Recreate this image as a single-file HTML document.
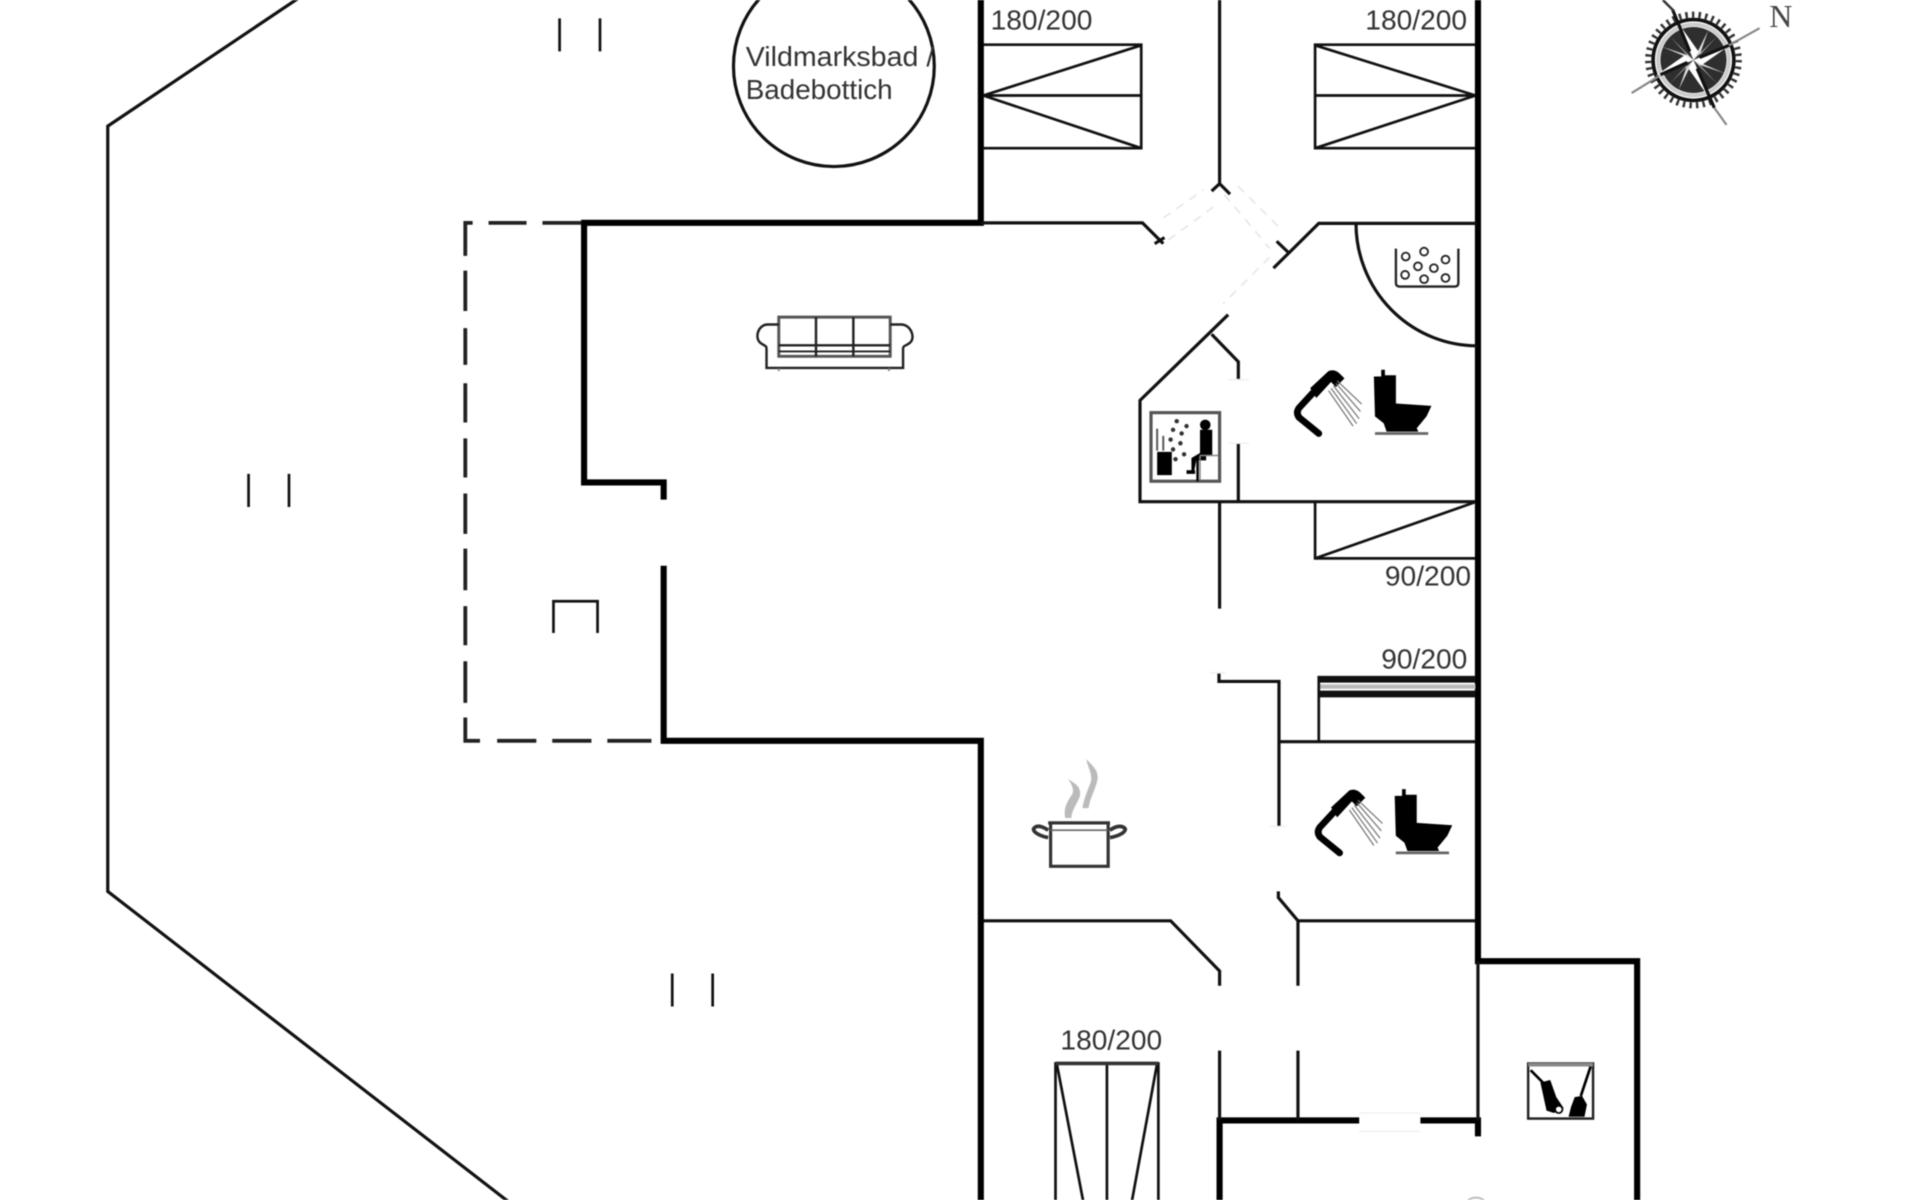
<!DOCTYPE html>
<html><head><meta charset="utf-8"><style>
html,body{margin:0;padding:0;background:#fff;width:1920px;height:1200px;overflow:hidden}
svg{display:block;filter:blur(.55px)}
text{font-family:"Liberation Sans",sans-serif;font-size:23px;fill:#333}
.w{fill:none;stroke:#000;stroke-width:5;stroke-linejoin:miter}
.t{fill:none;stroke:#111;stroke-width:2.6}
.b{fill:none;stroke:#111;stroke-width:2.2}
.d{fill:none;stroke:#222;stroke-width:3.1}
.p{fill:none;stroke:#e4e4e4;stroke-width:1.2;stroke-dasharray:7 6}
.k{fill:none;stroke:#ccc;stroke-width:1.2}
.q{fill:none;stroke:#f0f0f0;stroke-width:1.2}
</style></head><body>
<svg width="1920" height="1200" viewBox="0 0 1568 980" xmlns="http://www.w3.org/2000/svg">
<rect width="1568" height="980" fill="#fff"/>
<!-- terrace -->
<path class="t" d="M246,-3L88,103V728L416,982"/>
<path class="b" d="M457,15V42M490,15V42M203,387V414M236,387V414M549,795V822M582,795V822"/>
<!-- tub -->
<circle class="t" cx="681" cy="54" r="82"/>
<text x="609" y="54" textLength="154" lengthAdjust="spacingAndGlyphs">Vildmarksbad /</text>
<text x="609" y="81" textLength="120" lengthAdjust="spacingAndGlyphs">Badebottich</text>
<!-- thick walls -->
<path class="w" d="M801,-3V182H477V394H542V408"/>
<path class="w" d="M542,462V605H801V983"/>
<path class="w" d="M1207,-3V785H1337V983"/>
<path class="w" d="M996,983V915H1110M1160,915H1207V928"/>
<!-- thin walls -->
<path class="t" d="M801,182H933L950,199"/>
<path class="t" d="M943,199L951,194"/>
<path class="t" d="M996,-3V150M989.5,156L996,150L1004.5,158.5"/>
<path class="t" d="M1206,182.4H1077L1040,219M1042.6,197L1052,206"/>
<path class="t" d="M1003,257L931,327V409.7H1205"/>
<path class="t" d="M989.5,273L1011.3,295.4V310M1011.3,362V409.7"/>
<path class="q" d="M1003,310H1020M1003,362H1020"/>
<path class="t" d="M1107.4,182.4A99,100 0 0 0 1206,282.4"/>
<path class="p" d="M950,178L983,155M954,196L991,169M1000,159L1037,203M1011,152L1047,188M1037,210L999,248"/>
<!-- beds top -->
<path class="b" d="M803,36.5H932V121H803M803,78H932M803,78L932,37M803,78L932,121"/>
<path class="b" d="M1205,36.5H1074V121H1205M1074,78H1205M1074,37L1205,78M1074,121L1205,78"/>
<text x="809" y="24">180/200</text>
<text x="1115" y="24">180/200</text>
<!-- single beds -->
<path class="t" d="M996,410V497"/>
<path class="b" d="M1074,410V456H1205M1074,456L1205,410"/>
<text x="1131" y="478">90/200</text>
<text x="1128" y="546">90/200</text>
<path d="M1077,552H1205V557.5H1077ZM1077,564H1205V569.5H1077Z" fill="#111"/>
<path d="M1077,559H1205V562.5H1077Z" fill="#bbb"/>
<path class="b" d="M1077,552V605.7"/>
<path class="t" d="M995.5,550V556.5H1044.5V675M1044,605.7H1205"/>
<path class="q" d="M988,549.5H1001M1037,675H1051"/>
<path class="t" d="M1044,728V733L1060,752H1205M1060,752V805M803,752H956L996,793V805M996,858V915M1060,858V915"/>
<path class="t" d="M1207,785V915"/>
<!-- bottom bed -->
<path class="b" d="M862,983V868.5H946V983M904,868.5V983M863,868.5L885,983M945,868.5L924,983"/>
<path d="M862,867H946V870H862Z" fill="#333"/>
<text x="866" y="857">180/200</text>
<!-- dashed carport -->
<path class="d" d="M475,182H443M430,182H399M386,182H380V209M380,221V254M380,268V298M380,313V345M380,358V390M380,403V436M380,448V482M380,495V527M380,540V574M380,586V605H392M406,605H438M451,605H483M496,605H532"/>
<path class="b" d="M452,517V491H488V517"/>
<!-- sofa -->
<g fill="none" stroke="#222">
<path stroke-width="2.4" stroke="#555" d="M636,259H727V291H636Z"/>
<path stroke-width="2" d="M666.4,259V291M696.9,259V291M636,282H727"/>
<path stroke-width="1.6" d="M636,287H727"/>
<path stroke-width="2" d="M636,265H627C619,265 616,276 621,280C625,283 626,282 626,285V300.5H737.5V285C737.5,282 739,283 743,280C748,276 744,265 736,265H727"/>
<path stroke-width="1.4" stroke="#777" d="M636,303V300.5M726,300.5V303"/>
</g>
<!-- pot -->
<g fill="none" stroke="#333">
<path stroke-width="2.6" d="M856,672H906.5M858,672V707.5H905V672"/>
<path stroke-width="1.4" stroke="#666" d="M858,678H905"/>
<path stroke-width="3" d="M856,678C850,674 846,674 844,677C844,680 850,683 856,684M906.5,678C912,674 917,674 919,677C919,680 913,683 906.5,684"/>
<path stroke="none" fill="#bbb" d="M872,636C878,640 883,642 882,650C880,656 875,662 875,668H870C868,660 872,654 876,648C877,644 875,640 872,636ZM887,620C893,626 898,630 896,638C894,646 890,652 889,660H884C885,652 889,644 891,638C892,632 889,628 887,620Z"/>
</g>
<!-- jacuzzi -->
<g fill="none" stroke="#222" stroke-width="1.5">
<path stroke-width="1.9" d="M1140,203V231Q1140,234 1143,234H1188Q1191,234 1191,231V203"/>
<circle cx="1148" cy="209.5" r="3.2"/><circle cx="1163" cy="205.5" r="3.2"/><circle cx="1180.5" cy="212" r="3.2"/>
<circle cx="1158" cy="217.5" r="3.2"/><circle cx="1171" cy="219" r="3.2"/>
<circle cx="1147.5" cy="224.5" r="3.2"/><circle cx="1163" cy="228" r="3.2"/><circle cx="1180.5" cy="227" r="3.2"/>
</g>
<!-- shower + toilet -->
<defs><g id="wc">
<path fill="none" stroke="#000" stroke-width="5.5" stroke-linecap="round" stroke-linejoin="round" d="M1077,354L1061,341Q1058,337 1061,333L1073,320"/>
<path fill="#000" d="M1070,317L1085,303Q1090,301 1094,305L1098,309L1091,316L1087,312L1075,325Z"/>
<path fill="none" stroke="#777" stroke-width="1" d="M1092,311L1112,330M1091,313L1111,336M1089,315L1110,342M1087,317L1108,346M1085,319L1105,348"/>
<path fill="#000" d="M1122,307.5H1128V302H1131V306.5H1140V329.5L1169,331.5L1165,340L1157,349.7L1158.3,352.5H1132.4L1130,345.7L1122.9,340Z"/>
<path stroke="#666" stroke-width="2.2" d="M1122.9,354H1166.4"/>
</g></defs>
<use href="#wc"/>
<use href="#wc" transform="translate(17,342.5)"/>
<!-- sauna -->
<rect x="940" y="337" width="56" height="56" fill="none" stroke="#555" stroke-width="2.6"/>
<path fill="#000" d="M945,369H957V388H945Z"/>
<circle cx="984.3" cy="347" r="4.3" fill="#000"/>
<path fill="#000" d="M980,351H990V372H985V376H977L975,386H973V374L980,370Z"/>
<path d="M969,384H976V387H969Z" fill="#000"/>
<path stroke="#000" stroke-width="2" d="M978,372V393"/>
<path fill="none" stroke="#888" stroke-width="1.2" d="M980,372H995M980,372V392"/>
<g fill="#333"><circle cx="961" cy="344" r="1.8"/><circle cx="969" cy="348" r="1.8"/><circle cx="958" cy="351" r="1.8"/><circle cx="965" cy="354" r="1.8"/><circle cx="956" cy="359" r="1.8"/><circle cx="964" cy="362" r="1.8"/><circle cx="958" cy="367" r="1.8"/><circle cx="967" cy="371" r="1.8"/><circle cx="960" cy="375" r="1.8"/></g>
<path stroke="#555" stroke-width="1.6" fill="none" d="M945,350V368M950,356V368"/>
<!-- wash icon -->
<rect x="1248" y="868.5" width="53" height="45" fill="none" stroke="#222" stroke-width="2"/>
<path d="M1248,868H1301V871H1248Z" fill="#888"/>
<path fill="none" stroke="#000" stroke-width="2.2" d="M1250,874L1262,886M1299,871L1291,895"/>
<path fill="#000" d="M1258,884L1266,882L1271,896L1277,905L1269,909L1263,907Z"/>
<path fill="#000" d="M1286,896L1292,895L1296,902L1294,912H1281L1283,904Z"/>
<circle cx="1273" cy="906" r="3" fill="#fff" stroke="#000" stroke-width="1.4"/>
<path class="q" d="M1110,909H1160M1110,924H1160"/>
<path d="M1199,980Q1205,976 1212,980" fill="none" stroke="#bbb" stroke-width="1.5"/>
<!-- compass -->
<g>
<circle cx="1383" cy="49" r="37" fill="none" stroke="#333" stroke-width="5" stroke-dasharray="2 3.4"/>
<circle cx="1383" cy="49" r="33" fill="none" stroke="#111" stroke-width="3"/>
<circle cx="1383" cy="49" r="29" fill="none" stroke="#ccc" stroke-width="3"/>
<circle cx="1383" cy="49" r="27" fill="#2e2e2e"/>
<path fill="#ddd" d="M1383,49L1364,30L1378,45L1357,38ZM1383,49L1402,68L1388,53L1409,60ZM1383,49L1402,30L1388,45L1395,25ZM1383,49L1364,68L1378,53L1371,73Z"/>
<path fill="#fff" d="M1383,49L1352,62L1376,45ZM1383,49L1414,36L1390,53ZM1383,49L1370,18L1387,42ZM1383,49L1396,80L1379,56Z"/>
<path fill="none" stroke="#111" stroke-width="2.6" d="M1356,61L1378,51M1388,47L1412,37M1366,8L1380,42M1386,56L1400,88"/>
<path fill="none" stroke="#888" stroke-width="1.8" d="M1332.5,76L1355,62M1437,23L1412,37M1400,88L1410,102"/>
<path fill="none" stroke="#333" stroke-width="2" d="M1358,0L1367,9"/>
</g>
<text x="1445" y="22" style="font-family:'Liberation Serif',serif;font-size:26px;fill:#444">N</text>
</svg>
</body></html>
